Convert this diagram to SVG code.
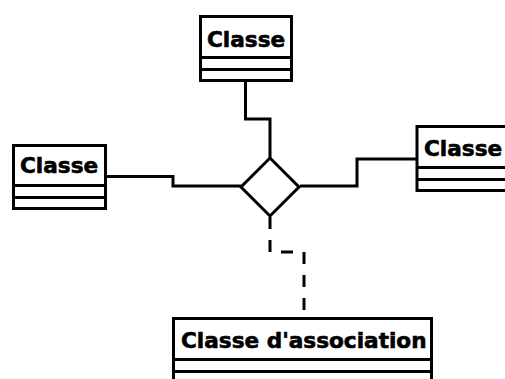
<svg xmlns="http://www.w3.org/2000/svg" width="505" height="379" viewBox="0 0 505 379">
<style>
.box{fill:#fff;stroke:#000;stroke-width:3}
.div{stroke:#000;stroke-width:3;fill:none}
.lbl{font-family:"DejaVu Sans",sans-serif;font-weight:bold;font-size:21.6px;fill:#000;stroke:#000;stroke-width:0.6}
.conn{fill:none;stroke:#000;stroke-width:3}
.dash{fill:none;stroke:#000;stroke-width:3;stroke-dasharray:12,11}
</style>
<rect width="505" height="379" fill="#fff"/>
<g id="connectors">
<polyline class="conn" points="245.5,80.5 245.5,119 270,119 270,158"/>
<polyline class="conn" points="105.5,176.5 173,176.5 173,186 241,186"/>
<polyline class="conn" points="300,186 357,186 357,159 417,159"/>
<polyline class="dash" points="270,217 270,252 304,252 304,318.5"/>
</g>
<g id="diamond">
<polygon class="box" points="270,158 299,187 270,216 241,187"/>
</g>
<g id="classe-top">
<rect class="box" x="200.5" y="16.5" width="91" height="64"/>
<line class="div" x1="200.5" y1="57.5" x2="291.5" y2="57.5"/>
<line class="div" x1="200.5" y1="69.5" x2="291.5" y2="69.5"/>
<text class="lbl" x="207" y="47">Classe</text>
</g>
<g id="classe-left">
<rect class="box" x="13.5" y="145.5" width="92" height="63"/>
<line class="div" x1="13.5" y1="185.5" x2="105.5" y2="185.5"/>
<line class="div" x1="13.5" y1="197.5" x2="105.5" y2="197.5"/>
<text class="lbl" x="20" y="173">Classe</text>
</g>
<g id="classe-right">
<rect class="box" x="417" y="126.5" width="100" height="64"/>
<line class="div" x1="417" y1="167.5" x2="517" y2="167.5"/>
<line class="div" x1="417" y1="179.5" x2="517" y2="179.5"/>
<text class="lbl" x="424" y="156">Classe</text>
</g>
<g id="classe-association">
<rect class="box" x="173.5" y="318.5" width="258" height="70"/>
<line class="div" x1="173.5" y1="359.5" x2="431.5" y2="359.5"/>
<line class="div" x1="173.5" y1="371.5" x2="431.5" y2="371.5"/>
<text class="lbl" x="181" y="348">Classe d'association</text>
</g>
</svg>
